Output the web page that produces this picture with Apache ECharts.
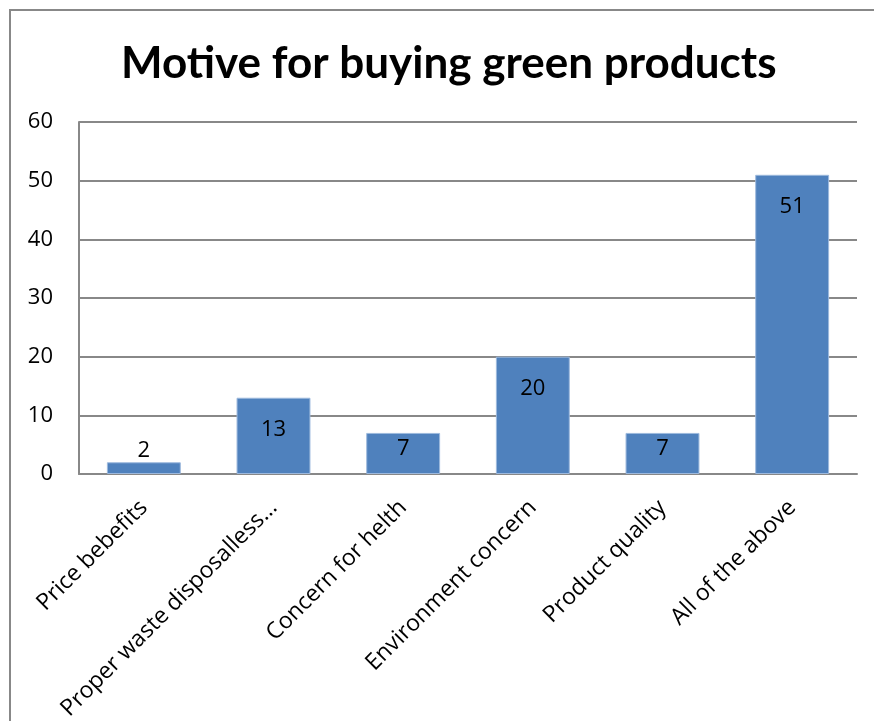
<!DOCTYPE html>
<html>
<head>
<meta charset="utf-8">
<script src="https://cdn.jsdelivr.net/npm/echarts@6/dist/echarts.min.js"></script>
<style>
    html, body { margin: 0; padding: 0; background: #fff; }
    #chart { width: 874px; height: 721px; }
</style>
</head>
<body>
<div id="chart"></div>
<script>
const categories = [
    "Price bebefits",
    "Proper waste disposalless…",
    "Concern for helth",
    "Environment concern",
    "Product quality",
    "All of the above"
];
const values = [2, 13, 7, 20, 7, 51];
const yTicks = [0, 10, 20, 30, 40, 50, 60];

const font = "Open Sans";
const titleFont = "Lato";
const gray = "#888888";

// Excel puts the label inside the bar top, unless the bar is too short
function labelFor(v) {
    if (v < 5) {
        return { position: "top", distance: 1 };
    }
    if (v < 10) {
        return { position: "insideTop", distance: 5 };
    }
    return { position: "insideTop", distance: 21 };
}

let chart = echarts.init(document.getElementById("chart"));

let options = {
    backgroundColor: "#fff",
    animation: false,
    textStyle: { fontFamily: font },
    title: {
        text: "Motive for buying green products",
        left: 116,
        top: 37,
        textStyle: {
            fontFamily: titleFont,
            fontWeight: "bold",
            fontSize: 44,
            color: "#000"
        }
    },
    grid: {
        left: 79,
        right: 17,
        top: 122,
        bottom: 247,
        containLabel: false,
        outerBoundsMode: "none"
    },
    xAxis: {
        type: "category",
        data: categories,
        axisLine: { lineStyle: { color: gray, width: 2 } },
        axisTick: { show: false },
        axisLabel: {
            interval: 0,
            rotate: 45,
            margin: 30,
            fontSize: 23,
            fontFamily: font,
            color: "#000"
        }
    },
    yAxis: {
        type: "value",
        min: yTicks[0],
        max: yTicks[yTicks.length - 1],
        interval: 10,
        axisLine: { show: true, lineStyle: { color: gray, width: 2 } },
        axisTick: { show: false },
        splitLine: { lineStyle: { color: gray, width: 2 } },
        axisLabel: {
            margin: 26,
            fontSize: 22,
            fontFamily: font,
            color: "#000"
        }
    },
    series: [{
        type: "bar",
        barWidth: "57%",
        itemStyle: {
            color: "#4F81BD",
            borderColor: "#9DB9DD",
            borderWidth: 1
        },
        data: values.map(v => ({
            value: v,
            label: labelFor(v)
        })),
        label: {
            show: true,
            fontSize: 22,
            fontFamily: font,
            color: "#000"
        }
    }],
    graphic: [
        {
            type: "polyline",
            shape: { points: [[10, 721], [10, 10], [874, 10]] },
            style: { stroke: gray, lineWidth: 2, fill: null }
        }
    ]
};
chart.setOption(options);
</script>
</body>
</html>
